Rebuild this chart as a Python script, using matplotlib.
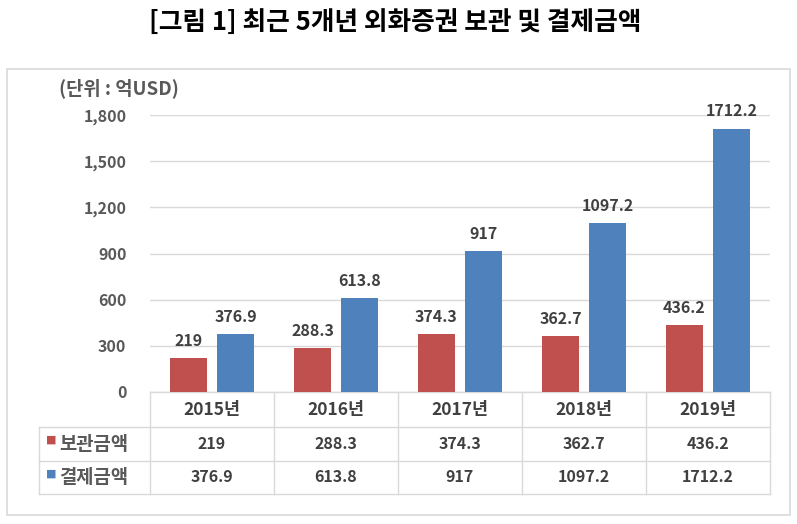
import matplotlib
matplotlib.use("Agg")
import matplotlib.pyplot as plt
from matplotlib.patches import Rectangle
from matplotlib.lines import Line2D
from matplotlib.transforms import blended_transform_factory
import numpy as np

plt.rcParams['font.family'] = ['Noto Sans CJK KR', 'DejaVu Sans']

title = "[그림 1] 최근 5개년 외화증권 보관 및 결제금액"
unit_label = "(단위 : 억USD)"
years = ["2015년", "2016년", "2017년", "2018년", "2019년"]
series_names = ["보관금액", "결제금액"]
custody = [219, 288.3, 374.3, 362.7, 436.2]
settlement = [376.9, 613.8, 917, 1097.2, 1712.2]
custody_text = ["219", "288.3", "374.3", "362.7", "436.2"]
settlement_text = ["376.9", "613.8", "917", "1097.2", "1712.2"]
yticks = [0, 300, 600, 900, 1200, 1500, 1800]
ytick_labels = ["0", "300", "600", "900", "1,200", "1,500", "1,800"]

RED = "#C0504D"
BLUE = "#4F81BD"
GRID = "#D9D9D9"
TXT = "#595959"
LBL = "#404040"

W, H = 797, 524
fig = plt.figure(figsize=(W / 100, H / 100), dpi=100)

def fx(px):
    return px / W

def fy(py):
    return 1 - py / H

# outer border
fig.add_artist(Rectangle((fx(7), fy(515)), fx(790) - fx(7), fy(69) - fy(515),
                         transform=fig.transFigure, fill=False, edgecolor=GRID, linewidth=1.2))

fig.text(fx(395), fy(22), title, ha="center", va="center", fontsize=18.5, fontweight="bold", color="#000000")

ax = fig.add_axes([fx(150), fy(392), fx(770) - fx(150), fy(115) - fy(392)])
x = np.arange(len(years))
off, bw = 0.19, 0.30
b1 = ax.bar(x - off, custody, bw, color=RED, zorder=3)
b2 = ax.bar(x + off, settlement, bw, color=BLUE, zorder=3)
ax.set_xlim(-0.5, len(years) - 0.5)
ax.set_ylim(0, 1800)
ax.set_yticks(yticks)
ax.set_yticklabels(ytick_labels, fontsize=11.5, fontweight="bold", color=TXT)
ax.tick_params(axis="y", length=0, pad=17)
ax.set_xticks([])
ax.yaxis.grid(True, color=GRID, linewidth=1, zorder=0)
for s in ax.spines.values():
    s.set_visible(False)

for rects, labels in ((b1, custody_text), (b2, settlement_text)):
    for r, t in zip(rects, labels):
        ax.annotate(t, (r.get_x() + r.get_width() / 2, r.get_height()),
                    xytext=(0, 6.5), textcoords="offset points", ha="center", va="bottom",
                    fontsize=11.5, fontweight="bold", color=LBL)

fig.text(fx(59), fy(88), unit_label, ha="left", va="center", fontsize=13.5, fontweight="bold", color=TXT)

# data table under the axis
tr = blended_transform_factory(ax.transData, ax.transAxes)
axh = 392 - 115
r0, r1, r2, r3 = 0, -35 / axh, -69 / axh, -102 / axh
xl = -0.5 - (150 - 39) / 124.0
xr = len(years) - 0.5
lk = dict(color=GRID, linewidth=1, transform=tr, clip_on=False)
ax.add_line(Line2D([-0.5, xr], [r0, r0], **lk))
ax.add_line(Line2D([xl, xr], [r1, r1], **lk))
ax.add_line(Line2D([xl, xr], [r2, r2], **lk))
ax.add_line(Line2D([xl, xr], [r3, r3], **lk))
ax.add_line(Line2D([xl, xl], [r1, r3], **lk))
for i in range(len(years) + 1):
    ax.add_line(Line2D([i - 0.5, i - 0.5], [r0, r3], **lk))

tk = dict(transform=tr, ha="center", va="center", fontweight="bold", color=LBL, clip_on=False)
for i, yr in enumerate(years):
    ax.text(i, (r0 + r1) / 2, yr, fontsize=12.5, **tk)
    ax.text(i, (r1 + r2) / 2, custody_text[i], fontsize=11.5, **tk)
    ax.text(i, (r2 + r3) / 2, settlement_text[i], fontsize=11.5, **tk)

for (name, col, ya, yb) in ((series_names[0], RED, r1, r2), (series_names[1], BLUE, r2, r3)):
    ym = (ya + yb) / 2
    ax.text(xl + 7 / 124, ym + 4 / axh, "■", transform=tr, ha="left", va="center",
            fontsize=8, color=col, clip_on=False, family=["DejaVu Sans"])
    ax.text(xl + 20 / 124, ym, name, transform=tr, ha="left", va="center",
            fontsize=13.5, fontweight="bold", color=TXT, clip_on=False)

fig.savefig("out.png", dpi=100)
